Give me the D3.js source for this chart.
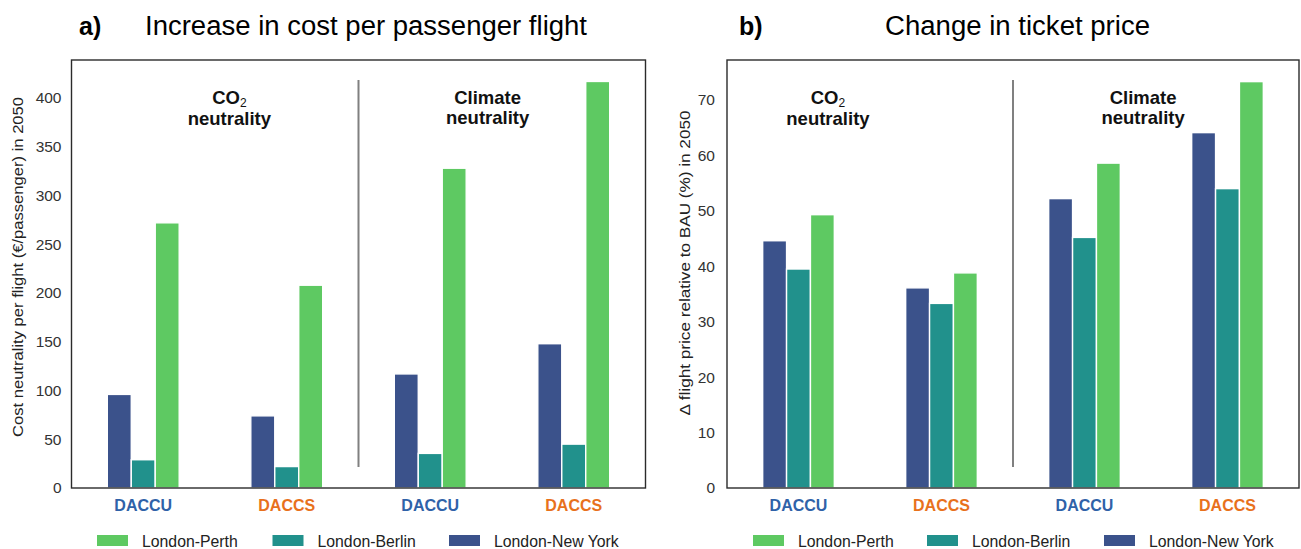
<!DOCTYPE html>
<html>
<head>
<meta charset="utf-8">
<script src="https://cdn.jsdelivr.net/npm/d3@7"></script>
<style>
  body { margin: 0; background: #fff; }
  svg text { font-family: "Liberation Sans", Arial, sans-serif; }
</style>
</head>
<body>
<svg id="fig" width="1301" height="549"></svg>
<script>
// data
var categories = ['DACCU', 'DACCS', 'DACCU', 'DACCS'];
var routes = ['London-New York', 'London-Berlin', 'London-Perth'];
var legendOrder = ['London-Perth', 'London-Berlin', 'London-New York'];

var costNewYork = [96, 74, 117, 148];
var costBerlin = [29, 22, 35.5, 45];
var costPerth = [272, 208, 328, 417];
var costTicks = [0, 50, 100, 150, 200, 250, 300, 350, 400];

var priceNewYork = [44.6, 36.1, 52.2, 64.1];
var priceBerlin = [39.5, 33.3, 45.2, 54.0];
var pricePerth = [49.3, 38.8, 58.6, 73.3];
var priceTicks = [0, 10, 20, 30, 40, 50, 60, 70];

var routeColor = d3.scaleOrdinal()
    .domain(routes)
    .range(['#3b528b', '#21918c', '#5ec962']);
var catColor = { DACCU: '#2f62a8', DACCS: '#e8711c' };

var svg = d3.select('#fig');

function panel(opts) {
    var left = opts.left, right = opts.right,
        top = 60, bottom = 488;

    var g = svg.append('g');

    var x0 = d3.scaleBand().domain(d3.range(categories.length)).range([left, right]).padding(0);
    var step = x0.bandwidth() * 0.167;
    var x1 = d3.scaleBand().domain(routes).range([-1.5 * step, 1.5 * step]);
    var y = d3.scaleLinear().domain([0, opts.ymax]).range([bottom, top]);

    var rows = categories.map(function(c, i) {
        return { i: i, cat: c, values: routes.map(function(r, k) { return { route: r, v: opts.series[k][i] }; }) };
    });

    // bars
    var grp = g.selectAll('g.grp').data(rows).enter().append('g')
        .attr('transform', function(d) { return 'translate(' + (x0(d.i) + x0.bandwidth() / 2) + ',0)'; });
    grp.selectAll('rect').data(function(d) { return d.values; }).enter().append('rect')
        .attr('x', function(d) { return x1(d.route); })
        .attr('width', x1.bandwidth())
        .attr('y', function(d) { return y(d.v); })
        .attr('height', function(d) { return y(0) - y(d.v); })
        .attr('fill', function(d) { return routeColor(d.route); })
        .attr('stroke', '#fff')
        .attr('stroke-width', 1.4);

    // y axis (labels only, no tick marks)
    var yAxis = d3.axisLeft(y).tickValues(opts.ticks).tickSize(0).tickPadding(opts.tickPad);
    var ya = g.append('g').attr('transform', 'translate(' + left + ',0)').call(yAxis);
    ya.select('.domain').remove();
    ya.selectAll('text').attr('font-size', 15.5).attr('fill', '#333')
        .attr('font-family', '"Liberation Sans", Arial, sans-serif');

    // frame
    g.append('rect')
        .attr('x', left).attr('y', top)
        .attr('width', right - left).attr('height', bottom - top)
        .attr('fill', 'none').attr('stroke', '#2b2b2b').attr('stroke-width', 1.4);

    // divider between scenarios
    var xm = x0(2);
    g.append('line')
        .attr('x1', xm).attr('x2', xm)
        .attr('y1', 80).attr('y2', 467)
        .attr('stroke', '#808080').attr('stroke-width', 2);

    // category labels
    g.selectAll('text.cat').data(rows).enter().append('text')
        .attr('class', 'cat')
        .attr('x', function(d) { return x0(d.i) + x0.bandwidth() / 2; })
        .attr('y', 511)
        .attr('text-anchor', 'middle')
        .attr('font-size', 16)
        .attr('font-weight', 'bold')
        .attr('fill', function(d) { return catColor[d.cat]; })
        .text(function(d) { return d.cat; });

    // scenario annotations
    var co2 = g.append('text')
        .attr('x', left + opts.co2Pos * x0.bandwidth()).attr('y', 104)
        .attr('text-anchor', 'middle').attr('font-size', 18.5).attr('font-weight', 'bold').attr('fill', '#111');
    co2.append('tspan').text('CO');
    co2.append('tspan').attr('font-size', 12).attr('dy', 3).attr('font-weight', 'normal').text('2');
    g.append('text')
        .attr('x', left + opts.co2Pos * x0.bandwidth()).attr('y', 125)
        .attr('text-anchor', 'middle').attr('font-size', 18.5).attr('font-weight', 'bold').attr('fill', '#111')
        .text('neutrality');
    g.append('text')
        .attr('x', left + opts.climPos * x0.bandwidth()).attr('y', 104)
        .attr('text-anchor', 'middle').attr('font-size', 18.5).attr('font-weight', 'bold').attr('fill', '#111')
        .text('Climate');
    g.append('text')
        .attr('x', left + opts.climPos * x0.bandwidth()).attr('y', 124)
        .attr('text-anchor', 'middle').attr('font-size', 18.5).attr('font-weight', 'bold').attr('fill', '#111')
        .text('neutrality');

    // y title
    g.append('text')
        .attr('transform', 'translate(' + opts.ytitleX + ',' + opts.ytitleY + ') rotate(-90)')
        .attr('text-anchor', 'middle')
        .attr('font-size', 15)
        .attr('fill', '#222')
        .attr('textLength', opts.ytitleW).attr('lengthAdjust', 'spacingAndGlyphs')
        .text(opts.ytitle);

    // panel title
    g.append('text')
        .attr('x', opts.tagX).attr('y', 35)
        .attr('font-family', 'Roboto, sans-serif').attr('font-size', 25).attr('font-weight', 'bold')
        .attr('fill', '#000')
        .text(opts.tag);
    g.append('text')
        .attr('x', opts.titleX).attr('y', 35)
        .attr('font-family', 'Roboto, sans-serif').attr('font-size', 27).attr('font-weight', 300)
        .attr('fill', '#000')
        .attr('textLength', opts.titleW).attr('lengthAdjust', 'spacingAndGlyphs')
        .text(opts.title);

    // legend
    var lg = g.selectAll('g.leg').data(legendOrder).enter().append('g')
        .attr('transform', function(d, i) { return 'translate(' + opts.legX[i] + ',535)'; });
    lg.append('rect')
        .attr('width', 31).attr('height', 11)
        .attr('fill', function(d) { return routeColor(d); });
    lg.append('text')
        .attr('x', 45).attr('y', 11.5)
        .attr('font-size', 15.8).attr('fill', '#222')
        .text(function(d) { return d; });
}

panel({
    left: 71.5, right: 645.5, ymax: 439,
    series: [costNewYork, costBerlin, costPerth],
    ticks: costTicks, tickPad: 10,
    co2Pos: 1.10, climPos: 2.90,
    ytitle: 'Cost neutrality per flight (\u20ac/passenger) in 2050', ytitleX: 23, ytitleY: 267, ytitleW: 340,
    tag: 'a)', tagX: 79, title: 'Increase in cost per passenger flight', titleX: 145, titleW: 442,
    legX: [97, 272.5, 449]
});

panel({
    left: 727, right: 1299, ymax: 77.2,
    series: [priceNewYork, priceBerlin, pricePerth],
    ticks: priceTicks, tickPad: 12,
    co2Pos: 0.706, climPos: 2.91,
    ytitle: '\u0394 flight price relative to BAU (%) in 2050', ytitleX: 690, ytitleY: 263, ytitleW: 305,
    tag: 'b)', tagX: 739, title: 'Change in ticket price', titleX: 885, titleW: 265,
    legX: [753, 927, 1104]
});
</script>
</body>
</html>
